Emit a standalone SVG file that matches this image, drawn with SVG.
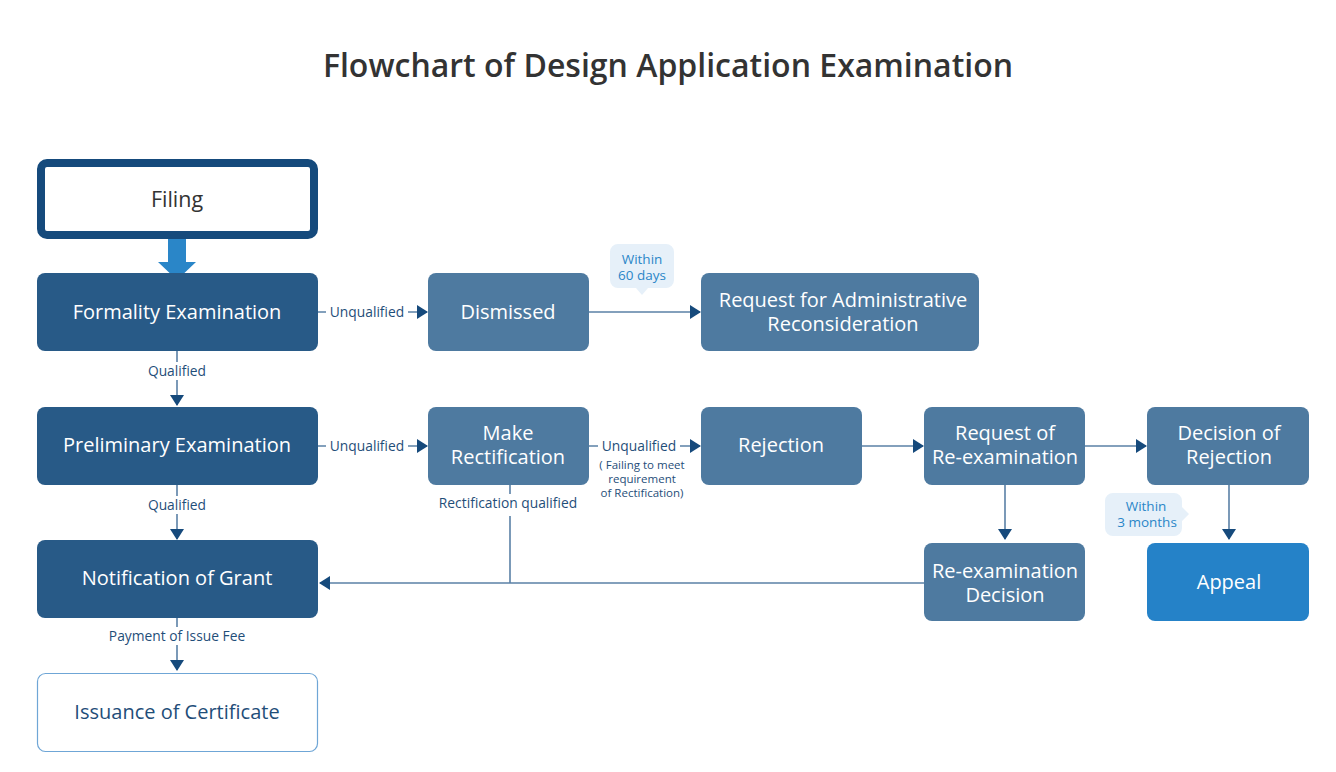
<svg xmlns="http://www.w3.org/2000/svg" width="1336" height="772" viewBox="0 0 1336 772">
<style>
.t{font-family:"Open Sans","Noto Sans","Liberation Sans",sans-serif}
.title{font-size:32px;font-weight:600;fill:#333;text-anchor:middle}
.dark{fill:#285a87}
.mid{fill:#4e7aa0}
.nt{font-size:20px;fill:#fff;text-anchor:middle}
.lbl{font-size:13.8px;fill:#1f4e79;text-anchor:middle}
.sm{font-size:11.5px;fill:#1f4e79;text-anchor:middle}
.ln{stroke:#5a80a6;stroke-width:1.6;fill:none}
.bub{fill:#e6f0f9}
.bt{font-size:13.5px;fill:#2a86c8;text-anchor:middle}
</style>
<defs>
<marker id="ah" markerUnits="userSpaceOnUse" markerWidth="12" markerHeight="14" refX="10" refY="7" orient="auto">
<path d="M0,0 L11,7 L0,14 Z" fill="#164a7c"/>
</marker>
</defs>
<text class="t title" x="668" y="77">Flowchart of Design Application Examination</text>

<g id="connectors">
<path class="ln" d="M318,312 H427" marker-end="url(#ah)"/>
<path class="ln" d="M589,312 H700" marker-end="url(#ah)"/>
<path class="ln" d="M177,351 V405" marker-end="url(#ah)"/>
<path class="ln" d="M318,446 H427" marker-end="url(#ah)"/>
<path class="ln" d="M589,446 H700" marker-end="url(#ah)"/>
<path class="ln" d="M862,446 H923" marker-end="url(#ah)"/>
<path class="ln" d="M1085,446 H1146" marker-end="url(#ah)"/>
<path class="ln" d="M177,485 V539" marker-end="url(#ah)"/>
<path class="ln" d="M1005,485 V539" marker-end="url(#ah)"/>
<path class="ln" d="M1229,485 V539" marker-end="url(#ah)"/>
<path class="ln" d="M510,485 V583"/>
<path class="ln" d="M924,583 H320" marker-end="url(#ah)"/>
<path class="ln" d="M177,618 V670" marker-end="url(#ah)"/>
<rect x="326" y="302" width="82" height="20" fill="#fff"/>
<text class="t lbl" x="367" y="317">Unqualified</text>
<rect x="326" y="436" width="82" height="20" fill="#fff"/>
<text class="t lbl" x="367" y="451">Unqualified</text>
<rect x="598" y="436" width="82" height="20" fill="#fff"/>
<text class="t lbl" x="639" y="451">Unqualified</text>
<text class="t sm" x="642" y="469">( Failing to meet</text>
<text class="t sm" x="642" y="483">requirement</text>
<text class="t sm" x="642" y="497">of Rectification)</text>
<rect x="140" y="362" width="74" height="18" fill="#fff"/>
<text class="t lbl" x="177" y="376">Qualified</text>
<rect x="140" y="496" width="74" height="18" fill="#fff"/>
<text class="t lbl" x="177" y="510">Qualified</text>
<rect x="432" y="494" width="156" height="22" fill="#fff"/>
<text class="t lbl" x="508" y="508">Rectification qualified</text>
<rect x="105" y="627" width="144" height="18" fill="#fff"/>
<text class="t lbl" x="177" y="641">Payment of Issue Fee</text>
<g id="bubble60">
<path class="bub" d="M618,244 H666 a8,8 0 0 1 8,8 V280 a8,8 0 0 1 -8,8 H648 L642,295 L636,288 H618 a8,8 0 0 1 -8,-8 V252 a8,8 0 0 1 8,-8 Z"/>
<text class="t bt" x="642" y="264">Within</text>
<text class="t bt" x="642" y="280">60 days</text>
</g>
<g id="bubble3m">
<path class="bub" d="M1113,493 H1174 a8,8 0 0 1 8,8 V507 L1189,514 L1182,521 V528 a8,8 0 0 1 -8,8 H1113 a8,8 0 0 1 -8,-8 V501 a8,8 0 0 1 8,-8 Z"/>
<text class="t bt" x="1146" y="511">Within</text>
<text class="t bt" x="1147" y="527">3 months</text>
</g>
</g>

<g id="filing">
<polygon points="168,238 186,238 186,262 196,262 177,280 158,262 168,262" fill="#2a86c8"/>
<rect x="41" y="163" width="273" height="72" rx="6" fill="#fff" stroke="#154a7c" stroke-width="8"/>
<text class="t" x="177" y="207" font-size="21.5" fill="#333" text-anchor="middle">Filing</text>
</g>
<g id="formality">
<rect class="dark" x="37" y="273" width="281" height="78" rx="8"/>
<text class="t nt" x="177" y="319">Formality Examination</text>
</g>
<g id="dismissed">
<rect class="mid" x="428" y="273" width="161" height="78" rx="8"/>
<text class="t nt" x="508" y="319">Dismissed</text>
</g>
<g id="reconsideration">
<rect class="mid" x="701" y="273" width="278" height="78" rx="8"/>
<text class="t nt" x="843" y="307">Request for Administrative</text>
<text class="t nt" x="843" y="331">Reconsideration</text>
</g>
<g id="preliminary">
<rect class="dark" x="37" y="407" width="281" height="78" rx="8"/>
<text class="t nt" x="177" y="452">Preliminary Examination</text>
</g>
<g id="rectification">
<rect class="mid" x="428" y="407" width="161" height="78" rx="8"/>
<text class="t nt" x="508" y="440">Make</text>
<text class="t nt" x="508" y="464">Rectification</text>
</g>
<g id="rejection">
<rect class="mid" x="701" y="407" width="161" height="78" rx="8"/>
<text class="t nt" x="781" y="452">Rejection</text>
</g>
<g id="reexam-request">
<rect class="mid" x="924" y="407" width="161" height="78" rx="8"/>
<text class="t nt" x="1005" y="440">Request of</text>
<text class="t nt" x="1005" y="464">Re-examination</text>
</g>
<g id="decision-rejection">
<rect class="mid" x="1147" y="407" width="162" height="78" rx="8"/>
<text class="t nt" x="1229" y="440">Decision of</text>
<text class="t nt" x="1229" y="464">Rejection</text>
</g>
<g id="grant">
<rect class="dark" x="37" y="540" width="281" height="78" rx="8"/>
<text class="t nt" x="177" y="585">Notification of Grant</text>
</g>
<g id="reexam-decision">
<rect class="mid" x="924" y="543" width="161" height="78" rx="8"/>
<text class="t nt" x="1005" y="578">Re-examination</text>
<text class="t nt" x="1005" y="602">Decision</text>
</g>
<g id="appeal">
<rect x="1147" y="543" width="162" height="78" rx="8" fill="#2582c8"/>
<text class="t nt" x="1229" y="589">Appeal</text>
</g>
<g id="certificate">
<rect x="37.5" y="673.5" width="280" height="78" rx="8" fill="#fff" stroke="#6fa6d6" stroke-width="1.2"/>
<text class="t" x="177" y="719" font-size="20" fill="#1f4e79" text-anchor="middle">Issuance of Certificate</text>
</g>
</svg>
